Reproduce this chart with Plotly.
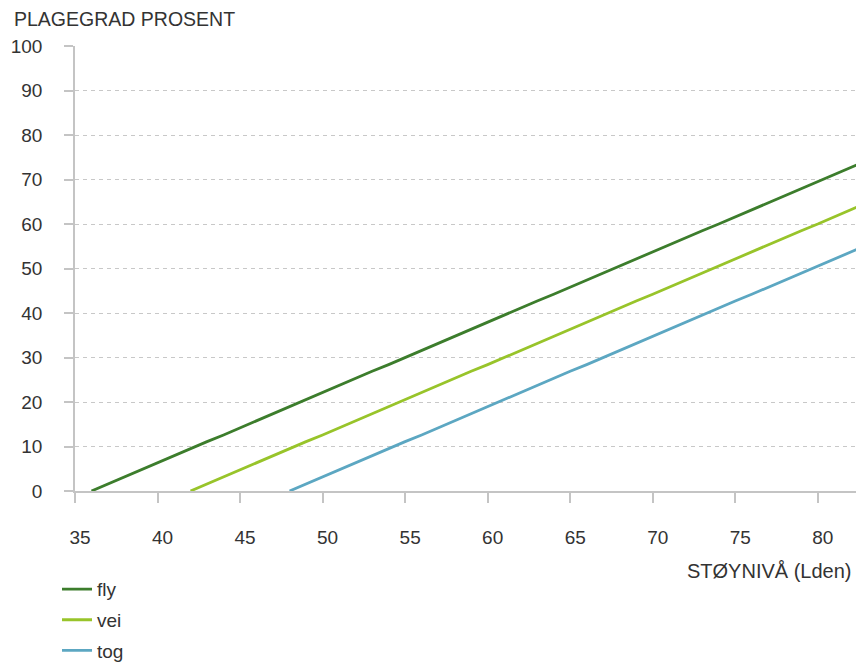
import plotly.graph_objects as go

# ---- data ----
fly_x = [36, 37, 38, 39, 40, 41, 42, 43, 44, 45, 46, 47, 48, 49, 50, 51, 52, 53, 54, 55,
         56, 57, 58, 59, 60, 61, 62, 63, 64, 65, 66, 67, 68, 69, 70, 71, 72, 73, 74, 75,
         76, 77, 78, 79, 80, 81, 82, 82.5]
fly_y = [0, 1.6, 3.2, 4.7, 6.3, 7.9, 9.5, 11.1, 12.6, 14.2, 15.8, 17.4, 19.0, 20.5, 22.1,
         23.7, 25.3, 26.9, 28.4, 30.0, 31.6, 33.2, 34.8, 36.3, 37.9, 39.5, 41.1, 42.7, 44.2,
         45.8, 47.4, 49.0, 50.6, 52.1, 53.7, 55.3, 56.9, 58.5, 60.0, 61.6, 63.2, 64.8, 66.4,
         67.9, 69.5, 71.1, 72.7, 73.5]

vei_x = [42, 43, 44, 45, 46, 47, 48, 49, 50, 51, 52, 53, 54, 55, 56, 57, 58, 59, 60, 61,
         62, 63, 64, 65, 66, 67, 68, 69, 70, 71, 72, 73, 74, 75, 76, 77, 78, 79, 80, 81,
         82, 82.5]
vei_y = [0, 1.6, 3.2, 4.7, 6.3, 7.9, 9.5, 11.1, 12.6, 14.2, 15.8, 17.4, 19.0, 20.5, 22.1,
         23.7, 25.3, 26.9, 28.4, 30.0, 31.6, 33.2, 34.8, 36.3, 37.9, 39.5, 41.1, 42.7, 44.2,
         45.8, 47.4, 49.0, 50.6, 52.1, 53.7, 55.3, 56.9, 58.5, 60.0, 61.6, 63.2, 64.0]

tog_x = [48, 49, 50, 51, 52, 53, 54, 55, 56, 57, 58, 59, 60, 61, 62, 63, 64, 65, 66, 67,
         68, 69, 70, 71, 72, 73, 74, 75, 76, 77, 78, 79, 80, 81, 82, 82.5]
tog_y = [0, 1.6, 3.2, 4.7, 6.3, 7.9, 9.5, 11.1, 12.6, 14.2, 15.8, 17.4, 19.0, 20.5, 22.1,
         23.7, 25.3, 26.9, 28.4, 30.0, 31.6, 33.2, 34.8, 36.3, 37.9, 39.5, 41.1, 42.7, 44.2,
         45.8, 47.4, 49.0, 50.6, 52.1, 53.7, 54.5]

series_names = ["fly", "vei", "tog"]
series_colors = ["#3c7d2c", "#98c42a", "#5ca7c2"]

y_title = "PLAGEGRAD PROSENT"
x_title = "STØYNIVÅ (Lden)"
x_ticks = [35, 40, 45, 50, 55, 60, 65, 70, 75, 80]
y_ticks = [0, 10, 20, 30, 40, 50, 60, 70, 80, 90, 100]

FONT = "Liberation Sans, Arial, sans-serif"
TXT = "#333333"
FS = 19

fig = go.Figure()
for name, xs, ys, col in zip(series_names, [fly_x, vei_x, tog_x], [fly_y, vei_y, tog_y], series_colors):
    fig.add_trace(go.Scatter(x=xs, y=ys, mode="lines", name=name, legendgroup=name,
                             line=dict(color=col, width=2.8)))

# The page body adds an 8px offset, so the figure is 8px smaller than the window.
fig.update_layout(
    width=856, height=655,
    margin=dict(l=67, r=0, t=38, b=172, autoexpand=False),
    paper_bgcolor="white", plot_bgcolor="white",
    font=dict(family=FONT, size=FS, color=TXT),
    showlegend=True,
    legend=dict(x=-0.0228, y=-0.178, xanchor="left", yanchor="top", orientation="v",
                tracegroupgap=3, font=dict(size=FS, color=TXT),
                bgcolor="rgba(0,0,0,0)"),
    xaxis=dict(range=[35, 82.8], tickmode="array", tickvals=x_ticks, automargin=False,
               showgrid=False, zeroline=False, showline=True, linecolor="#c4c4c4", linewidth=1.5,
               ticks="outside", ticklen=10, tickcolor="#c4c4c4", tickwidth=1.5,
               ticklabelstandoff=18, ticklabelshift=5,
               tickfont=dict(size=FS, color=TXT)),
    yaxis=dict(range=[0, 100], tickmode="array", tickvals=y_ticks, automargin=False,
               showgrid=True, gridcolor="#c8c8c8", griddash="4px,4px", gridwidth=1,
               zeroline=False, showline=True, linecolor="#c4c4c4", linewidth=1.5,
               ticks="outside", ticklen=9, tickcolor="#c4c4c4", tickwidth=1.5,
               ticklabelstandoff=18,
               tickfont=dict(size=FS, color=TXT)),
    annotations=[
        dict(text=y_title, xref="paper", yref="paper", x=-0.0798, y=1.0607,
             xanchor="left", yanchor="middle", showarrow=False,
             font=dict(size=FS + 0.5, color=TXT)),
        dict(text=x_title, xref="paper", yref="paper", x=0.987, y=-0.18,
             xanchor="right", yanchor="middle", showarrow=False,
             font=dict(size=FS + 1, color=TXT)),
    ],
)

fig.write_html("out.html")
